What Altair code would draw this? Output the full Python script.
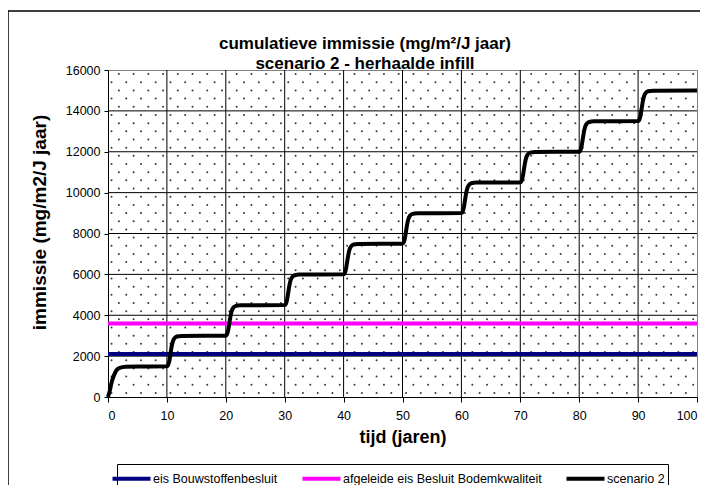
import altair as alt
import pandas as pd
import numpy as np

FONT = "Liberation Sans"

# ---- data ----
title_lines = ["cumulatieve immissie (mg/m\u00b2/J jaar)", "scenario 2 - herhaalde infill"]
x_ticks = [0, 10, 20, 30, 40, 50, 60, 70, 80, 90, 100]
y_ticks = [0, 2000, 4000, 6000, 8000, 10000, 12000, 14000, 16000]

series_names = ["eis Bouwstoffenbesluit", "afgeleide eis Besluit Bodemkwaliteit", "scenario 2"]
series_colors = ["#000080", "#FF00FF", "#000000"]

eis_bouw = 2100
afgeleide_eis = 3600

scen_t = [
    0, 0.3, 0.6, 1.0, 1.5, 2.0, 3.0, 5.0,
    10.0, 10.2, 10.4, 10.6, 10.8, 11.0, 11.3, 11.7, 12.5,
    20.0, 20.2, 20.4, 20.6, 20.8, 21.0, 21.3, 21.7, 22.5,
    30.0, 30.2, 30.4, 30.6, 30.8, 31.0, 31.3, 31.7, 32.5,
    40.0, 40.2, 40.4, 40.6, 40.8, 41.0, 41.3, 41.7, 42.5,
    50.0, 50.2, 50.4, 50.6, 50.8, 51.0, 51.3, 51.7, 52.5,
    60.0, 60.2, 60.4, 60.6, 60.8, 61.0, 61.3, 61.7, 62.5,
    70.0, 70.2, 70.4, 70.6, 70.8, 71.0, 71.3, 71.7, 72.5,
    80.0, 80.2, 80.4, 80.6, 80.8, 81.0, 81.3, 81.7, 82.5,
    90.0, 90.2, 90.4, 90.6, 90.8, 91.0, 91.3, 91.7, 92.5,
    100.0,
]
scen_v = [
    0, 300, 700, 1050, 1330, 1430, 1480, 1495,
    1500, 1560, 1760, 2110, 2460, 2710, 2880, 2960, 2990,
    3000, 3060, 3260, 3610, 3960, 4210, 4380, 4460, 4490,
    4500, 4560, 4760, 5110, 5460, 5710, 5880, 5960, 5990,
    6000, 6060, 6260, 6610, 6960, 7210, 7380, 7460, 7490,
    7500, 7560, 7760, 8110, 8460, 8710, 8880, 8960, 8990,
    9000, 9060, 9260, 9610, 9960, 10210, 10380, 10460, 10490,
    10500, 10560, 10760, 11110, 11460, 11710, 11880, 11960, 11990,
    12000, 12060, 12260, 12610, 12960, 13210, 13380, 13460, 13490,
    13500, 13560, 13760, 14110, 14460, 14710, 14880, 14960, 14990,
    15000,
]

# ---- tables ----
hlines = pd.DataFrame({
    "t": [0, 100, 0, 100],
    "v": [eis_bouw, eis_bouw, afgeleide_eis, afgeleide_eis],
    "series": [series_names[0]] * 2 + [series_names[1]] * 2,
})
scen = pd.DataFrame({"t": scen_t, "v": scen_v, "series": series_names[2]})

# inner gridlines (the outer edges are the grey plot border)
xgrid = pd.DataFrame({"t": x_ticks[1:-1]})
ygrid = pd.DataFrame({"v": y_ticks[1:-1]})

# background dotted fill texture (Excel-style pattern), not data
rows = []
for i, yy in enumerate(np.arange(200, 16000, 400)):
    off = 0.6 if i % 2 == 0 else 1.85
    for xx in np.arange(off, 100, 2.5):
        rows.append({"t": xx, "v": yy})
dots = pd.DataFrame(rows)

W, H = 589, 327

xscale = alt.Scale(domain=[0, 100], nice=False, zero=False)
yscale = alt.Scale(domain=[0, 16000], nice=False)

color = alt.Color(
    "series:N",
    scale=alt.Scale(domain=series_names, range=series_colors),
    sort=series_names,
    legend=alt.Legend(
        title=None,
        orient="none",
        direction="horizontal",
        legendX=9,
        legendY=394,
        strokeColor="#000000",
        fillColor="#FFFFFF",
        padding=3,
        symbolType="M-2,0H2",
        symbolSize=361,
        symbolStrokeWidth=4,
        labelFont=FONT,
        labelFontSize=12.5,
        labelColor="#000000",
        labelOffset=10,
        labelLimit=400,
        columnPadding=16,
    ),
)

xaxis = alt.Axis(
    values=x_ticks, title="tijd (jaren)", grid=False,
    domainColor="#000000", tickColor="#000000", tickSize=5,
    labelFont=FONT, labelFontSize=12.5, labelColor="#000000", labelPadding=7,
    titleFont=FONT, titleFontSize=18, titleFontWeight="bold", titleColor="#000000",
    titlePadding=7,
)
yaxis = alt.Axis(
    values=y_ticks, title="immissie (mg/m2/J jaar)", grid=False, format="d",
    domainColor="#000000", tickColor="#000000", tickSize=4,
    labelFont=FONT, labelFontSize=12.5, labelColor="#000000", labelPadding=4,
    titleFont=FONT, titleFontSize=19, titleFontWeight="bold", titleColor="#000000",
    titlePadding=16, titleY=152,
)

dot_layer = alt.Chart(dots).mark_point(
    filled=True, size=4, color="#222222", opacity=0.9
).encode(
    x=alt.X("t:Q", scale=xscale, axis=xaxis),
    y=alt.Y("v:Q", scale=yscale, axis=yaxis),
)

xgrid_layer = alt.Chart(xgrid).mark_rule(color="#000000", strokeWidth=1).encode(
    x=alt.X("t:Q", scale=xscale)
)
ygrid_layer = alt.Chart(ygrid).mark_rule(color="#000000", strokeWidth=1).encode(
    y=alt.Y("v:Q", scale=yscale)
)

h_layer = alt.Chart(hlines).mark_line(strokeWidth=4).encode(
    x=alt.X("t:Q", scale=xscale),
    y=alt.Y("v:Q", scale=yscale),
    color=color,
    detail="series:N",
)

scen_layer = alt.Chart(scen).mark_line(strokeWidth=4, interpolate="monotone").encode(
    x=alt.X("t:Q", scale=xscale),
    y=alt.Y("v:Q", scale=yscale),
    color=color,
)

# chart title as text (two lines)
title_layer = alt.Chart(alt.Data(values=[{"a": 1}])).mark_text(
    text=title_lines, font=FONT, fontSize=17, fontWeight="bold", color="#000000",
    align="center", baseline="middle", lineHeight=20,
).encode(x=alt.value(257), y=alt.value(-26))

# outer chart frame
frame = alt.Chart(alt.Data(values=[{"a": 1}])).mark_rect(
    filled=False, stroke="#000000", strokeWidth=1.5
).encode(
    x=alt.value(-100), x2=alt.value(700), y=alt.value(-59), y2=alt.value(500)
)

chart = alt.layer(
    dot_layer, xgrid_layer, ygrid_layer, h_layer, scen_layer, title_layer, frame
).properties(
    width=W,
    height=H,
    background="#FFFFFF",
    autosize=alt.AutoSizeParams(type="none"),
    padding={"left": 100, "top": 62, "right": 3, "bottom": 88},
).configure_view(
    stroke="#808080", strokeWidth=1
)

chart.save("out.html", embed_options={"renderer": "svg", "actions": False})
